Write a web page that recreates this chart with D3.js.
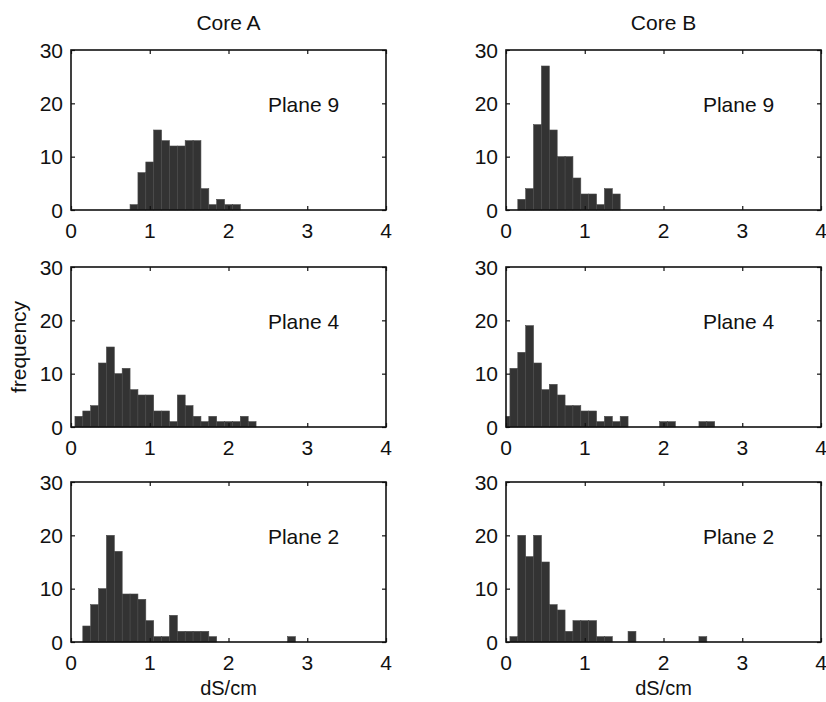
<!DOCTYPE html>
<html>
<head>
<meta charset="utf-8">
<script src="https://cdn.jsdelivr.net/npm/d3@7"></script>
<style>
  html, body { margin: 0; padding: 0; background: #fff; }
  svg { display: block; }
  text { font-family: "Liberation Sans", Arial, sans-serif; fill: #111; }
</style>
</head>
<body>
<svg id="chart" width="826" height="702"></svg>
<script>
// ---- data (bin centres in dS/cm, counts = frequency) ----
const columnTitles = ["Core A", "Core B"];
const planeLabels = ["Plane 9", "Plane 4", "Plane 2"];
const xTicks = [0, 1, 2, 3, 4];
const yTicks = [0, 10, 20, 30];
const binWidth = 0.1;

const coreA_plane9_centers = [0.8, 0.9, 1.0, 1.1, 1.2, 1.3, 1.4, 1.5, 1.6, 1.7, 1.8, 1.9, 2.0, 2.1];
const coreA_plane9_counts  = [1, 7, 9, 15, 13, 12, 12, 13, 13, 4, 1, 2, 1, 1];

const coreB_plane9_centers = [0.2, 0.3, 0.4, 0.5, 0.6, 0.7, 0.8, 0.9, 1.0, 1.1, 1.2, 1.3, 1.4];
const coreB_plane9_counts  = [2, 4, 16, 27, 15, 10, 10, 6, 3, 3, 1, 4, 3];

const coreA_plane4_centers = [0.1, 0.2, 0.3, 0.4, 0.5, 0.6, 0.7, 0.8, 0.9, 1.0, 1.1, 1.2, 1.3, 1.4, 1.5, 1.6, 1.7, 1.8, 1.9, 2.0, 2.1, 2.2, 2.3];
const coreA_plane4_counts  = [2, 3, 4, 12, 15, 10, 11, 7, 6, 6, 3, 3, 1, 6, 4, 2, 1, 2, 1, 1, 1, 2, 1];

const coreB_plane4_centers = [0.0, 0.1, 0.2, 0.3, 0.4, 0.5, 0.6, 0.7, 0.8, 0.9, 1.0, 1.1, 1.2, 1.3, 1.4, 1.5, 2.0, 2.1, 2.5, 2.6];
const coreB_plane4_counts  = [2, 11, 14, 19, 12, 7, 8, 6, 4, 4, 3, 3, 1, 2, 1, 2, 1, 1, 1, 1];

const coreA_plane2_centers = [0.2, 0.3, 0.4, 0.5, 0.6, 0.7, 0.8, 0.9, 1.0, 1.1, 1.2, 1.3, 1.4, 1.5, 1.6, 1.7, 1.8, 2.8];
const coreA_plane2_counts  = [3, 7, 10, 20, 17, 9, 9, 8, 4, 1, 1, 5, 2, 2, 2, 2, 1, 1];

const coreB_plane2_centers = [0.1, 0.2, 0.3, 0.4, 0.5, 0.6, 0.7, 0.8, 0.9, 1.0, 1.1, 1.2, 1.3, 1.6, 2.5];
const coreB_plane2_counts  = [1, 20, 16, 20, 15, 7, 6, 2, 4, 4, 4, 1, 1, 2, 1];

// ---- layout ----
const svg = d3.select("#chart");
const colX = [71, 506];
const rowY = [50, 267, 482];
const pw = 315, ph = 160;

const panels = [
  { col: 0, row: 0, centers: coreA_plane9_centers, counts: coreA_plane9_counts },
  { col: 1, row: 0, centers: coreB_plane9_centers, counts: coreB_plane9_counts },
  { col: 0, row: 1, centers: coreA_plane4_centers, counts: coreA_plane4_counts },
  { col: 1, row: 1, centers: coreB_plane4_centers, counts: coreB_plane4_counts },
  { col: 0, row: 2, centers: coreA_plane2_centers, counts: coreA_plane2_counts },
  { col: 1, row: 2, centers: coreB_plane2_centers, counts: coreB_plane2_counts }
];

const fs = 21;

panels.forEach(p => {
  const x0 = colX[p.col], y0 = rowY[p.row];
  const x = d3.scaleLinear().domain([0, 4]).range([x0, x0 + pw]);
  const y = d3.scaleLinear().domain([0, 30]).range([y0 + ph, y0]);
  const g = svg.append("g");

  const bins = p.centers.map((c, i) => ({
    lo: Math.max(0, c - binWidth / 2),
    hi: Math.min(4, c + binWidth / 2),
    n: p.counts[i]
  }));

  g.selectAll("rect.bar").data(bins).enter().append("rect")
    .attr("class", "bar")
    .attr("x", d => x(d.lo))
    .attr("width", d => x(d.hi) - x(d.lo))
    .attr("y", d => y(d.n))
    .attr("height", d => y(0) - y(d.n))
    .attr("fill", "#333")
    .attr("stroke", "#4a4a4a")
    .attr("stroke-width", 0.6);

  // inward ticks on all four sides (box style)
  const tl = 4;
  g.append("g").attr("transform", `translate(0,${y0 + ph})`)
    .call(d3.axisTop(x).tickValues(xTicks).tickSize(tl).tickFormat(""))
    .call(a => a.select(".domain").remove());
  g.append("g").attr("transform", `translate(0,${y0})`)
    .call(d3.axisBottom(x).tickValues(xTicks).tickSize(tl).tickFormat(""))
    .call(a => a.select(".domain").remove());
  g.append("g").attr("transform", `translate(${x0},0)`)
    .call(d3.axisRight(y).tickValues(yTicks).tickSize(tl).tickFormat(""))
    .call(a => a.select(".domain").remove());
  g.append("g").attr("transform", `translate(${x0 + pw},0)`)
    .call(d3.axisLeft(y).tickValues(yTicks).tickSize(tl).tickFormat(""))
    .call(a => a.select(".domain").remove());
  g.selectAll(".tick line").attr("stroke", "#111").attr("stroke-width", 1.2);

  // frame
  g.append("rect")
    .attr("x", x0).attr("y", y0).attr("width", pw).attr("height", ph)
    .attr("fill", "none").attr("stroke", "#111").attr("stroke-width", 1.6);

  // tick labels
  g.selectAll("text.xl").data(xTicks).enter().append("text")
    .attr("x", d => x(d)).attr("y", y0 + ph + 28)
    .attr("text-anchor", "middle").attr("font-size", fs)
    .text(d => d);
  g.selectAll("text.yl").data(yTicks).enter().append("text")
    .attr("x", x0 - 8).attr("y", d => y(d) + 7.5)
    .attr("text-anchor", "end").attr("font-size", fs)
    .text(d => d);

  // plane label
  g.append("text")
    .attr("x", x(2.5)).attr("y", y(18.4))
    .attr("font-size", fs)
    .text(planeLabels[p.row]);
});

// column titles and x-axis labels
columnTitles.forEach((t, i) => {
  svg.append("text")
    .attr("x", colX[i] + pw / 2).attr("y", 30)
    .attr("text-anchor", "middle").attr("font-size", fs)
    .text(t);
  svg.append("text")
    .attr("x", colX[i] + pw / 2).attr("y", 695)
    .attr("text-anchor", "middle").attr("font-size", 20)
    .text("dS/cm");
});

// y label
svg.append("text")
  .attr("transform", `translate(26,${rowY[1] + ph / 2}) rotate(-90)`)
  .attr("text-anchor", "middle").attr("font-size", fs)
  .text("frequency");
</script>
</body>
</html>
